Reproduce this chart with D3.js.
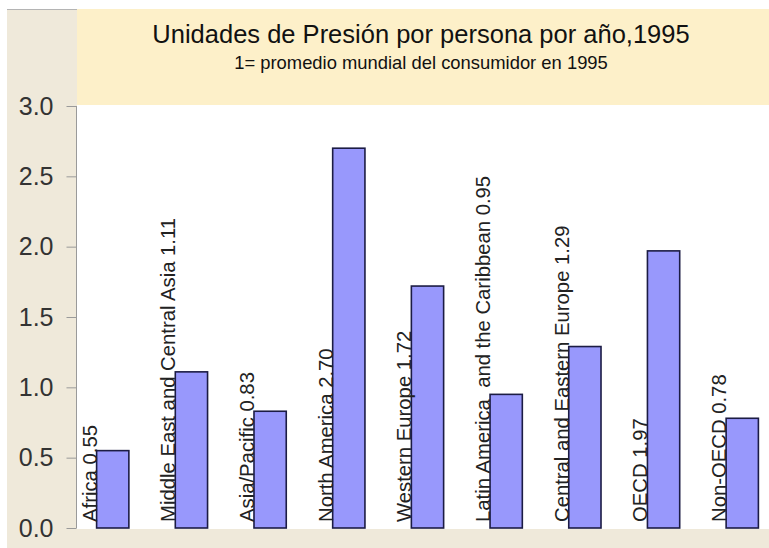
<!DOCTYPE html>
<html>
<head>
<meta charset="utf-8">
<script src="https://cdn.jsdelivr.net/npm/d3@7"></script>
<style>
  body { margin: 0; background: #fff; }
  svg { display: block; }
</style>
</head>
<body>
<div id="chart"></div>
<script>
// chart data
const regions = ["Africa", "Middle East and Central Asia", "Asia/Pacific", "North America",
  "Western Europe", "Latin America  and the Caribbean", "Central and Eastern Europe",
  "OECD", "Non-OECD"];
const labelValues = ["0.55", "1.11", "0.83", "2.70", "1.72", "0.95", "1.29", "1.97", "0.78"];
const values = [0.55, 1.11, 0.83, 2.70, 1.72, 0.95, 1.29, 1.97, 0.78];
const yTicks = [0, 0.5, 1.0, 1.5, 2.0, 2.5, 3.0];
const titleText = "Unidades de Presión por persona por año,1995";
const subtitleText = "1= promedio mundial del consumidor en 1995";

function main() {
  const W = 769, H = 548;

  const svg = d3.select("#chart").append("svg")
    .attr("width", W)
    .attr("height", H);

  // backgrounds
  svg.append("rect").attr("x", 0).attr("y", 0).attr("width", W).attr("height", H).attr("fill", "#fff");
  svg.append("rect").attr("x", 7).attr("y", 9).attr("width", 70).attr("height", H - 9).attr("fill", "#efe9da");
  svg.append("rect").attr("x", 7).attr("y", 529).attr("width", W - 7).attr("height", H - 529).attr("fill", "#efe9da");
  svg.append("rect").attr("x", 77).attr("y", 9).attr("width", W - 77).attr("height", 96).attr("fill", "#fdf0c9");
  svg.append("line").attr("x1", 7).attr("x2", 77).attr("y1", 9.5).attr("y2", 9.5)
    .attr("stroke", "#b4b4b4").attr("stroke-width", 1);

  // scales
  const x = d3.scaleBand()
    .domain(regions)
    .range([73, 782])
    .paddingInner(0.59)
    .paddingOuter(0.3);

  const y = d3.scaleLinear()
    .domain([0, 3])
    .range([528, 106]);

  // y axis
  const yAxis = d3.axisLeft(y)
    .tickValues(yTicks)
    .tickFormat(d3.format(".1f"))
    .tickSize(10)
    .tickPadding(13);

  const gy = svg.append("g")
    .attr("transform", "translate(76.5,0)")
    .call(yAxis);
  gy.select(".domain").attr("stroke", "#9a9a9a").attr("d", "M0," + y(3) + "V" + y(0));
  gy.selectAll(".tick line").attr("stroke", "#9a9a9a");
  gy.selectAll(".tick text")
    .attr("font-family", "Arial, 'Liberation Sans', sans-serif")
    .attr("font-size", 25)
    .attr("fill", "#333");

  // bars
  svg.append("g").selectAll("rect")
    .data(values)
    .join("rect")
    .attr("x", (d, i) => x(regions[i]))
    .attr("y", d => y(d))
    .attr("width", x.bandwidth())
    .attr("height", d => y(0) - y(d))
    .attr("fill", "#9898fc")
    .attr("stroke", "#1c1c44")
    .attr("stroke-width", 1.6);

  // rotated labels, baseline sits on the bar's left edge
  svg.append("g").selectAll("text")
    .data(regions)
    .join("text")
    .attr("transform", d => "translate(" + x(d) + ",522) rotate(-90)")
    .attr("text-anchor", "start")
    .attr("font-family", "Arial, 'Liberation Sans', sans-serif")
    .attr("font-size", 20.3)
    .attr("fill", "#222")
    .style("white-space", "pre")
    .text((d, i) => d + " " + labelValues[i]);

  // title
  svg.append("text")
    .attr("x", 421).attr("y", 43)
    .attr("text-anchor", "middle")
    .attr("font-family", "Arial, 'Liberation Sans', sans-serif")
    .attr("font-size", 25.5)
    .attr("fill", "#111")
    .text(titleText);

  svg.append("text")
    .attr("x", 421).attr("y", 69)
    .attr("text-anchor", "middle")
    .attr("font-family", "Arial, 'Liberation Sans', sans-serif")
    .attr("font-size", 18.4)
    .attr("fill", "#111")
    .text(subtitleText);
}

function whenDocumentLoaded(action) {
  if (document.readyState === "loading") {
    document.addEventListener("DOMContentLoaded", action);
  } else {
    action();
  }
}

whenDocumentLoaded(() => {
  main();
});
</script>
</body>
</html>
